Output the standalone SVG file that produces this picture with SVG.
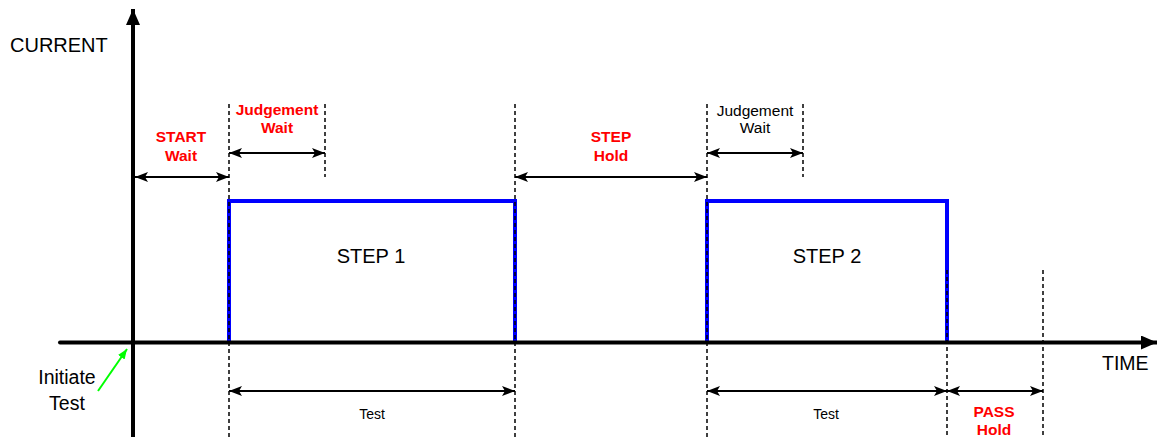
<svg xmlns="http://www.w3.org/2000/svg" width="1157" height="437" viewBox="0 0 1157 437">
  <style>
    .lbl { font-family: "Liberation Sans", Arial, sans-serif; fill: #000; }
    .big { font-size: 20px; }
    .red { font-family: "Liberation Sans", Arial, sans-serif; font-weight: bold; font-size: 15.5px; fill: #ff0000; text-anchor: middle; }
    .blk { font-family: "Liberation Sans", Arial, sans-serif; font-size: 15.5px; fill: #000; text-anchor: middle; }
    .init { font-family: "Liberation Sans", Arial, sans-serif; font-size: 19.5px; fill: #000; text-anchor: middle; }
    .small { font-family: "Liberation Sans", Arial, sans-serif; font-size: 14px; fill: #000; text-anchor: middle; }
    .dash { stroke: #000; stroke-width: 1.5; stroke-dasharray: 4 3; fill: none; }
    .dim { stroke: #000; stroke-width: 2; fill: none; marker-start: url(#ah); marker-end: url(#ah); }
    .axis { stroke: #000; stroke-width: 4; fill: none; }
    .pulse { stroke: #0000ff; stroke-width: 4; fill: none; stroke-linejoin: miter; }
  </style>
  <defs>
    <marker id="ah" viewBox="0 0 13 10" refX="13" refY="5" markerWidth="13" markerHeight="10" markerUnits="userSpaceOnUse" orient="auto-start-reverse">
      <path d="M0,0 L13,5 L0,10 L3,5 Z" fill="#000"/>
    </marker>
    <marker id="axh" viewBox="0 0 16 14" refX="16" refY="7" markerWidth="16" markerHeight="14" markerUnits="userSpaceOnUse" orient="auto">
      <path d="M0,0 L16,7 L0,14 Z" fill="#000"/>
    </marker>
    <marker id="gh" viewBox="0 0 10 8" refX="10" refY="4" markerWidth="10" markerHeight="8" markerUnits="userSpaceOnUse" orient="auto">
      <path d="M0,0 L10,4 L0,8 Z" fill="#00ff00"/>
    </marker>
  </defs>

  <g id="pulses">
    <path id="step1-pulse" class="pulse" d="M229,342 V201 H515 V342"/>
    <path id="step2-pulse" class="pulse" d="M707,342 V201 H947 V342"/>
  </g>

  <g id="connectors">
    <line class="dash" x1="229" y1="104" x2="229" y2="437"/>
    <line class="dash" x1="325" y1="104" x2="325" y2="177"/>
    <line class="dash" x1="515" y1="104" x2="515" y2="437"/>
    <line class="dash" x1="707" y1="104" x2="707" y2="437"/>
    <line class="dash" x1="803" y1="104" x2="803" y2="177"/>
    <line class="dash" x1="947" y1="270" x2="947" y2="437"/>
    <line class="dash" x1="1043" y1="270" x2="1043" y2="437"/>
    <line class="dim" x1="135" y1="177" x2="229" y2="177"/>
    <line class="dim" x1="229" y1="153" x2="325" y2="153"/>
    <line class="dim" x1="515" y1="177" x2="707" y2="177"/>
    <line class="dim" x1="707" y1="153" x2="803" y2="153"/>
    <line class="dim" x1="229" y1="391" x2="515" y2="391"/>
    <line class="dim" x1="707" y1="391" x2="947" y2="391"/>
    <line class="dim" x1="947" y1="391" x2="1043" y2="391"/>
    <line x1="98" y1="391" x2="127" y2="349" stroke="#00ff00" stroke-width="2" marker-end="url(#gh)"/>
    <line class="axis" x1="60" y1="342.5" x2="1157" y2="342.5" stroke-linecap="round" marker-end="url(#axh)"/>
    <line class="axis" x1="133" y1="437" x2="133" y2="9" marker-end="url(#axh)"/>
  </g>

  <g id="axis-labels">
    <text class="lbl big" x="10" y="52">CURRENT</text>
    <text class="lbl" x="1102" y="370" font-size="19.5">TIME</text>
  </g>

  <g id="initiate-test">
    <text class="init" x="67" y="384">Initiate</text>
    <text class="init" x="67" y="410">Test</text>
  </g>

  <g id="start-wait">
    <text class="red" x="181" y="142">START</text>
    <text class="red" x="181" y="161">Wait</text>
  </g>

  <g id="judgement-wait-1">
    <text class="red" x="277" y="115">Judgement</text>
    <text class="red" x="277" y="133">Wait</text>
  </g>

  <g id="step-hold">
    <text class="red" x="611" y="142">STEP</text>
    <text class="red" x="611" y="161">Hold</text>
  </g>

  <g id="judgement-wait-2">
    <text class="blk" x="755" y="116">Judgement</text>
    <text class="blk" x="755" y="133">Wait</text>
  </g>

  <g id="step1">
    <text class="lbl big" x="371" y="263" text-anchor="middle">STEP 1</text>
  </g>

  <g id="step2">
    <text class="lbl big" x="827" y="263" text-anchor="middle">STEP 2</text>
  </g>

  <g id="test1">
    <text class="small" x="372" y="419">Test</text>
  </g>

  <g id="test2">
    <text class="small" x="826" y="419">Test</text>
  </g>

  <g id="pass-hold">
    <text class="red" x="994" y="417">PASS</text>
    <text class="red" x="994" y="435">Hold</text>
  </g>
</svg>
